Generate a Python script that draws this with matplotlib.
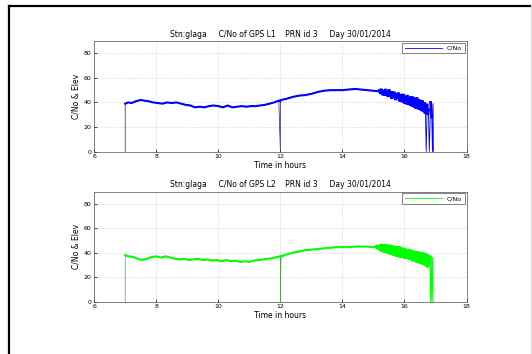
import numpy as np
import matplotlib.pyplot as plt
from matplotlib.lines import Line2D

# C/No for GPS L1, PRN 3 (hours, dB-Hz); zeros are loss-of-lock samples
t_l1 = [7.00, 7.00, 7.10, 7.20, 7.35, 7.50, 7.60, 7.75, 7.90, 8.05, 8.20, 8.35,
        8.50, 8.65, 8.80, 8.95, 9.10, 9.25, 9.40, 9.55, 9.70, 9.85, 10.00, 10.15,
        10.30, 10.45, 10.60, 10.75, 10.90, 11.05, 11.20, 11.35, 11.50, 11.65,
        11.80, 11.95, 12.00, 12.00, 12.02, 12.20, 12.40, 12.60, 12.80, 13.00,
        13.20, 13.40, 13.60, 13.80, 14.00, 14.20, 14.40, 14.60, 14.80, 15.00,
        15.18]
cno_l1 = [0, 39, 40, 39.5, 41, 42, 41.5, 41, 40, 39.5, 39, 40,
          39.5, 40, 39, 38, 37.5, 36, 36.5, 36, 37, 37.5, 37, 36,
          37.5, 36, 36.5, 37, 36.5, 37, 37, 37.5, 38, 39,
          40, 41.5, 0, 41, 42, 43, 44.5, 45.5, 46, 47,
          48.5, 49.5, 50, 50, 50, 50.5, 51, 50.5, 50, 49.5,
          49]

# noisy part of the L1 pass, low elevation
t_l1_tail = [15.20, 15.23, 15.26, 15.29, 15.32, 15.35, 15.38, 15.41, 15.44, 15.47,
             15.50, 15.53, 15.56, 15.59, 15.62, 15.65, 15.68, 15.71, 15.74, 15.77,
             15.80, 15.83, 15.86, 15.89, 15.92, 15.95, 15.98, 16.01, 16.04, 16.07,
             16.10, 16.13, 16.16, 16.19, 16.22, 16.25, 16.28, 16.31, 16.34, 16.37,
             16.40, 16.43, 16.46, 16.49, 16.52, 16.55, 16.58, 16.61, 16.64, 16.66,
             16.67, 16.70, 16.73, 16.75, 16.77, 16.80, 16.84, 16.86, 16.88, 16.90,
             16.92, 16.93]
cno_l1_tail = [50, 47, 51, 46, 49.5, 45.5, 51, 46, 49, 44.5,
               50.5, 45, 48.5, 43, 49, 44, 48.5, 42, 47, 43,
               48, 41, 46.5, 40.5, 47, 40, 46.5, 39, 45, 38.5,
               46, 38, 44.5, 37.5, 45, 36.5, 44.5, 36, 43, 35,
               44, 34.5, 42.5, 34, 42, 33, 41.5, 32.5, 40, 31,
               36, 0, 38, 30, 34, 0, 40, 35, 28, 0,
               39, 0]

# C/No for GPS L2, PRN 3
t_l2 = [7.00, 7.00, 7.10, 7.25, 7.40, 7.55, 7.70, 7.85, 8.00, 8.15, 8.30, 8.45,
        8.60, 8.75, 8.90, 9.05, 9.20, 9.35, 9.50, 9.65, 9.80, 9.95, 10.10, 10.25,
        10.40, 10.55, 10.70, 10.85, 11.00, 11.15, 11.30, 11.45, 11.60, 11.75,
        11.90, 12.00, 12.00, 12.02, 12.20, 12.40, 12.60, 12.80, 13.00, 13.20,
        13.40, 13.60, 13.80, 14.00, 14.20, 14.40, 14.60, 14.80, 15.00, 15.08]
cno_l2 = [0, 38, 37, 36.5, 35, 34, 35, 36.5, 37, 36, 37, 36,
          35, 34.5, 35, 34, 34.5, 35, 34, 34.5, 33.5, 34, 33, 34,
          33, 33.5, 32.5, 33, 32.5, 33.5, 34, 34.5, 35, 35.5,
          36.5, 37, 0, 37, 38.5, 40, 41, 42, 42.5, 43,
          43.5, 44, 44.5, 44.5, 44.5, 45, 45, 45, 44.5, 44.5]

t_l2_tail = [15.10, 15.13, 15.16, 15.19, 15.22, 15.25, 15.28, 15.31, 15.34, 15.37,
             15.40, 15.43, 15.46, 15.49, 15.52, 15.55, 15.58, 15.61, 15.64, 15.67,
             15.70, 15.73, 15.76, 15.79, 15.82, 15.85, 15.88, 15.91, 15.94, 15.97,
             16.00, 16.03, 16.06, 16.09, 16.12, 16.15, 16.18, 16.21, 16.24, 16.27,
             16.30, 16.33, 16.36, 16.39, 16.42, 16.45, 16.48, 16.51, 16.54, 16.57,
             16.60, 16.63, 16.66, 16.69, 16.72, 16.75, 16.78, 16.80, 16.82, 16.84,
             16.86, 16.88, 16.90, 16.92]
cno_l2_tail = [45.5, 43, 46, 42, 47, 41, 47, 40.5, 46.5, 40,
               47, 39.5, 46, 39, 46.5, 38.5, 46, 38, 45.5, 37.5,
               45.5, 37, 45, 36.5, 45, 36, 44.5, 36, 44, 35.5,
               43.5, 35, 43, 35, 43, 34.5, 42.5, 34, 42, 33,
               41.5, 33, 41, 32, 41, 31.5, 40.5, 31, 40, 30.5,
               40, 30, 39.5, 29, 39, 28, 38, 30, 36, 0,
               38, 0, 36, 0]

xticks = [6, 8, 10, 12, 14, 16, 18]
yticks = [0, 20, 40, 60, 80]

fig = plt.figure(figsize=(5.32, 3.54), dpi=100)

# outer window border
fig.add_artist(Line2D([0.016, 0.996], [0.983, 0.983], color='black', lw=1.6))
fig.add_artist(Line2D([0.016, 0.016], [0.0, 0.983], color='black', lw=1.6))
fig.add_artist(Line2D([0.998, 0.998], [0.0, 0.983], color='0.85', lw=0.8))

ax1 = fig.add_axes([0.177, 0.572, 0.700, 0.312])
ax2 = fig.add_axes([0.177, 0.148, 0.700, 0.311])

panels = [
    (ax1, t_l1, cno_l1, t_l1_tail, cno_l1_tail, (0, 0, 1), '#20206a', 'L1'),
    (ax2, t_l2, cno_l2, t_l2_tail, cno_l2_tail, (0, 1, 0), '#5a9a5a', 'L2'),
]

for ax, t, c, tt, ct, col, dark, band in panels:
    tm = np.array(t)
    cm = np.array(c, dtype=float)
    # thin trace shows the drop-outs to zero
    ax.plot(tm, cm, color=dark, lw=0.5)
    ax.plot(tt, ct, color=col, lw=0.6)
    # thick trace for the tracked signal
    cm[cm == 0] = np.nan
    ax.plot(tm, cm, color=col, lw=1.5, label='C/No')
    ct_arr = np.array(ct, dtype=float)
    ct_arr[ct_arr == 0] = np.nan
    ax.plot(tt, ct_arr, color=col, lw=2.0, solid_joinstyle='miter')

    ax.set_xlim(6, 18)
    ax.set_ylim(0, 90)
    ax.set_xticks(xticks)
    ax.set_yticks(yticks)
    ax.grid(True, linestyle=':', color='0.75', lw=0.5)
    ax.tick_params(direction='in', length=2, width=0.5, labelsize=4.5, pad=2)
    for s in ax.spines.values():
        s.set_linewidth(0.5)
        s.set_color('0.3')
    ax.set_title('Stn:glaga     C/No of GPS ' + band + '    PRN id 3     Day 30/01/2014',
                 fontsize=5.5, pad=3)
    ax.set_xlabel('Time in hours', fontsize=5.5, labelpad=1)
    ax.set_ylabel('C/No & Elev', fontsize=5.5, labelpad=2)
    leg = ax.legend(loc='upper right', fontsize=4.5, handlelength=6,
                    fancybox=False, framealpha=1, borderaxespad=0.3,
                    borderpad=0.4, handletextpad=0.8)
    leg.get_frame().set_edgecolor('0.3')
    leg.get_frame().set_linewidth(0.5)
    for h in leg.legend_handles:
        h.set_linewidth(0.6)

fig.savefig('out.png', dpi=100, facecolor='white')
